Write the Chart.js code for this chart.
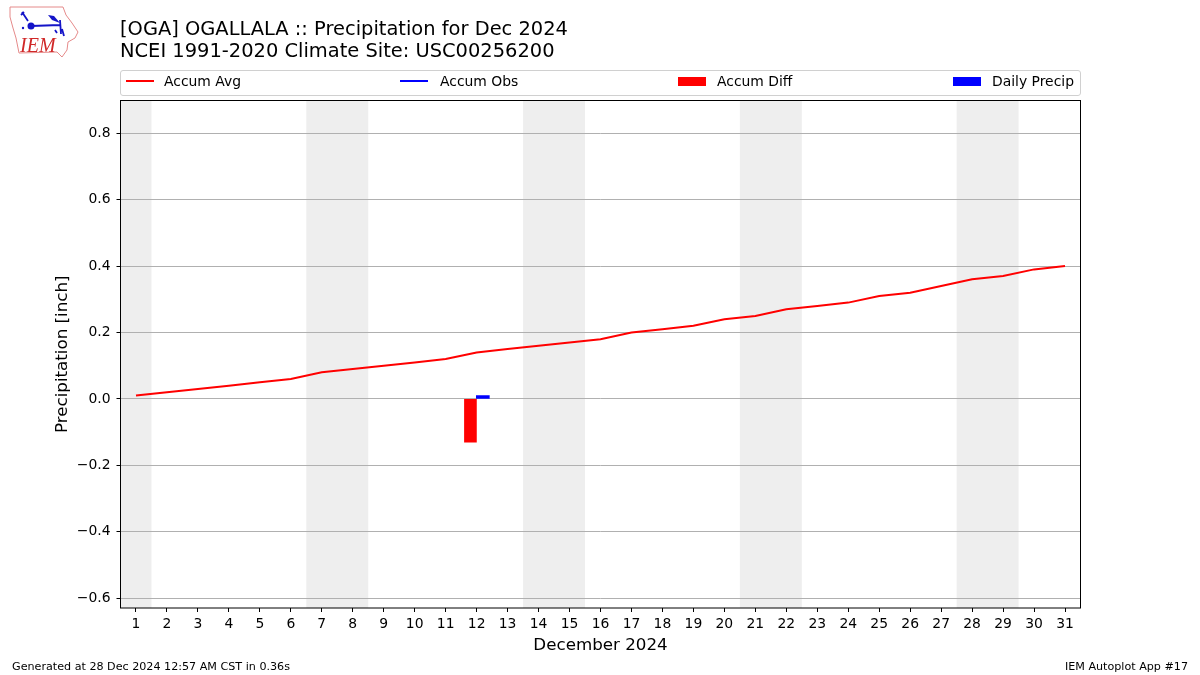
<!DOCTYPE html>
<html>
<head>
<meta charset="utf-8">
<title>OGA Precipitation</title>
<script src="https://cdn.jsdelivr.net/npm/chart.js@4"></script>
<style>
    html, body { margin: 0; padding: 0; background: #fff; }
    body { width: 1200px; height: 675px; overflow: hidden; position: relative; font-family: "DejaVu Sans", sans-serif; color: #000; }
    #wrap { position: absolute; left: 0; top: 0; width: 1200px; height: 675px; }
    .txt { position: absolute; white-space: nowrap; }
    #title { left: 120px; top: 18px; font-size: 19.45px; line-height: 21.5px; }
    #legend { position: absolute; left: 120px; top: 70px; width: 959px; height: 24px; border: 1px solid #d0d0d0; border-radius: 3px; }
    .label { font-size: 13.9px; line-height: 16px; top: 2px; }
    .sw { position: absolute; }
    .foot { font-size: 11.15px; top: 660px; line-height: 13px; }
</style>
</head>
<body>
<div id="wrap"><canvas id="chart" width="1200" height="675"></canvas></div>

<svg class="txt" style="left:0;top:0" width="90" height="62" viewBox="0 0 90 62">
    <path d="M10 7 L63 7 L66 15 L72 23 L78 32 L75 38 L68 42 L67 50 L62 57 L57 52 L19 53 L16 38 L13 28 L10 17 Z" fill="none" stroke="#e58a8a" stroke-width="1"/>
    <path d="M22 12 L28 21 M21 15 L24 12 M31 26 L60 25 M60 20 L61 34 M55 30 L57 33 M62 29 L64 36" fill="none" stroke="#1414c8" stroke-width="1.8"/>
    <path d="M48 15 L54 16 L60 23 L52 20 Z" fill="#1414c8"/>
    <circle cx="31" cy="26" r="3.5" fill="#1414c8"/>
    <circle cx="23" cy="28" r="1.2" fill="#1414c8"/>
    <text x="20" y="52" font-family="Liberation Serif" font-style="italic" font-size="20" fill="#d02828">IEM</text>
</svg>

<div id="title" class="txt"></div>
<div id="legend"></div>
<div id="footL" class="txt foot" style="left:12px"></div>
<div id="footR" class="txt foot" style="right:12px"></div>

<script>
// --- dados ---
const titleLines = ['[OGA] OGALLALA :: Precipitation for Dec 2024', 'NCEI 1991-2020 Climate Site: USC00256200'];
const footLeft = 'Generated at 28 Dec 2024 12:57 AM CST in 0.36s';
const footRight = 'IEM Autoplot App #17';
const xLabel = 'December 2024';
const yLabel = 'Precipitation [inch]';

const days = [1, 2, 3, 4, 5, 6, 7, 8, 9, 10, 11, 12, 13, 14, 15, 16, 17, 18, 19, 20, 21, 22, 23, 24, 25, 26, 27, 28, 29, 30, 31];
const accumAvg = [0.01, 0.02, 0.03, 0.04, 0.05, 0.06, 0.08, 0.09, 0.10, 0.11, 0.12, 0.14, 0.15, 0.16, 0.17, 0.18, 0.20, 0.21, 0.22, 0.24, 0.25, 0.27, 0.28, 0.29, 0.31, 0.32, 0.34, 0.36, 0.37, 0.39, 0.40];
const accumObs = [];
const diffDays = [11.8];
const accumDiff = [-0.13];
const precipDays = [12.2];
const dailyPrecip = [0.01];
const weekendStart = [0.5, 6.5, 13.5, 20.5, 27.5];
const weekendEnd = [1.5, 8.5, 15.5, 22.5, 29.5];
const yTicks = [-0.6, -0.4, -0.2, 0, 0.2, 0.4, 0.6, 0.8];

document.getElementById('title').innerHTML = titleLines.join('<br>');
document.getElementById('footL').textContent = footLeft;
document.getElementById('footR').textContent = footRight;

// --- legenda ---
const legendItems = [
    { name: 'Accum Avg', color: '#ff0000', kind: 'line', swatch: 5, text: 43 },
    { name: 'Accum Obs', color: '#0000ff', kind: 'line', swatch: 279, text: 319 },
    { name: 'Accum Diff', color: '#ff0000', kind: 'bar', swatch: 557, text: 596 },
    { name: 'Daily Precip', color: '#0000ff', kind: 'bar', swatch: 832, text: 871 }
];
const legendBox = document.getElementById('legend');
legendItems.forEach(item => {
    const sw = document.createElement('div');
    sw.className = 'sw';
    sw.style.left = item.swatch + 'px';
    sw.style.width = '28px';
    sw.style.background = item.color;
    sw.style.top = item.kind === 'line' ? '9px' : '6px';
    sw.style.height = item.kind === 'line' ? '2px' : '9px';
    legendBox.appendChild(sw);
    const t = document.createElement('div');
    t.className = 'txt label';
    t.style.left = item.text + 'px';
    t.textContent = item.name;
    legendBox.appendChild(t);
});

// faixas de fim de semana, atras da grade
const weekendBands = {
    id: 'weekendBands',
    beforeDraw(chart) {
        const { ctx, chartArea, scales } = chart;
        ctx.save();
        ctx.fillStyle = '#eeeeee';
        weekendStart.forEach((start, i) => {
            const x0 = scales.x.getPixelForValue(start);
            const x1 = scales.x.getPixelForValue(weekendEnd[i]);
            ctx.fillRect(x0, chartArea.top, x1 - x0, chartArea.bottom - chartArea.top);
        });
        ctx.restore();
    }
};

// moldura preta nos quatro lados
const frame = {
    id: 'frame',
    afterDraw(chart) {
        const { ctx, chartArea } = chart;
        ctx.save();
        ctx.strokeStyle = '#000';
        ctx.lineWidth = 1;
        ctx.strokeRect(chartArea.left, chartArea.top, chartArea.right - chartArea.left, chartArea.bottom - chartArea.top);
        ctx.restore();
    }
};

new Chart(document.getElementById('chart').getContext('2d'), {
    data: {
        datasets: [
            { type: 'bar', label: 'Accum Diff', data: diffDays.map((d, i) => ({ x: d, y: accumDiff[i] })), backgroundColor: '#ff0000', barThickness: 12, grouped: false, order: 3 },
            { type: 'bar', label: 'Daily Precip', data: precipDays.map((d, i) => ({ x: d, y: dailyPrecip[i] })), backgroundColor: '#0000ff', barThickness: 13, grouped: false, order: 2 },
            { type: 'line', label: 'Accum Obs', data: accumObs, borderColor: '#0000ff', borderWidth: 2, pointRadius: 0, order: 1 },
            { type: 'line', label: 'Accum Avg', data: days.map((d, i) => ({ x: d, y: accumAvg[i] })), borderColor: '#ff0000', borderWidth: 2, pointRadius: 0, tension: 0, order: 0 }
        ]
    },
    options: {
        responsive: false,
        animation: false,
        devicePixelRatio: 1,
        layout: { padding: { top: 100.5, right: 119.5, left: 0, bottom: 0 } },
        plugins: { legend: { display: false }, title: { display: false }, tooltip: { enabled: false } },
        scales: {
            x: {
                type: 'linear',
                offset: false,
                min: 0.5,
                max: 31.5,
                afterBuildTicks: s => { s.ticks = days.map(d => ({ value: d })); },
                afterFit: s => { s.height = 67; },
                grid: { offset: false, drawOnChartArea: false, tickColor: '#000', tickLength: 4 },
                border: { display: false },
                ticks: { color: '#000', autoSkip: false, maxRotation: 0, padding: 4, font: { family: 'DejaVu Sans', size: 13.9 } },
                title: { display: true, text: xLabel, color: '#000', padding: { top: 3, bottom: 19 }, font: { family: 'DejaVu Sans', size: 16.7 } }
            },
            y: {
                min: -0.6295,
                max: 0.8985,
                afterBuildTicks: s => { s.ticks = yTicks.map(v => ({ value: v })); },
                afterFit: s => { s.width = 120.5; },
                grid: { color: '#b0b0b0', tickColor: '#000', tickLength: 4, lineWidth: 1 },
                border: { display: false },
                ticks: {
                    color: '#000',
                    padding: 6,
                    font: { family: 'DejaVu Sans', size: 13.9 },
                    callback: v => (v < 0 ? '\u2212' : '') + Math.abs(v).toFixed(1)
                },
                title: { display: true, text: yLabel, color: '#000', padding: { top: 53, bottom: 0 }, font: { family: 'DejaVu Sans', size: 16.7 } }
            }
        }
    },
    plugins: [weekendBands, frame]
});
</script>
</body>
</html>
